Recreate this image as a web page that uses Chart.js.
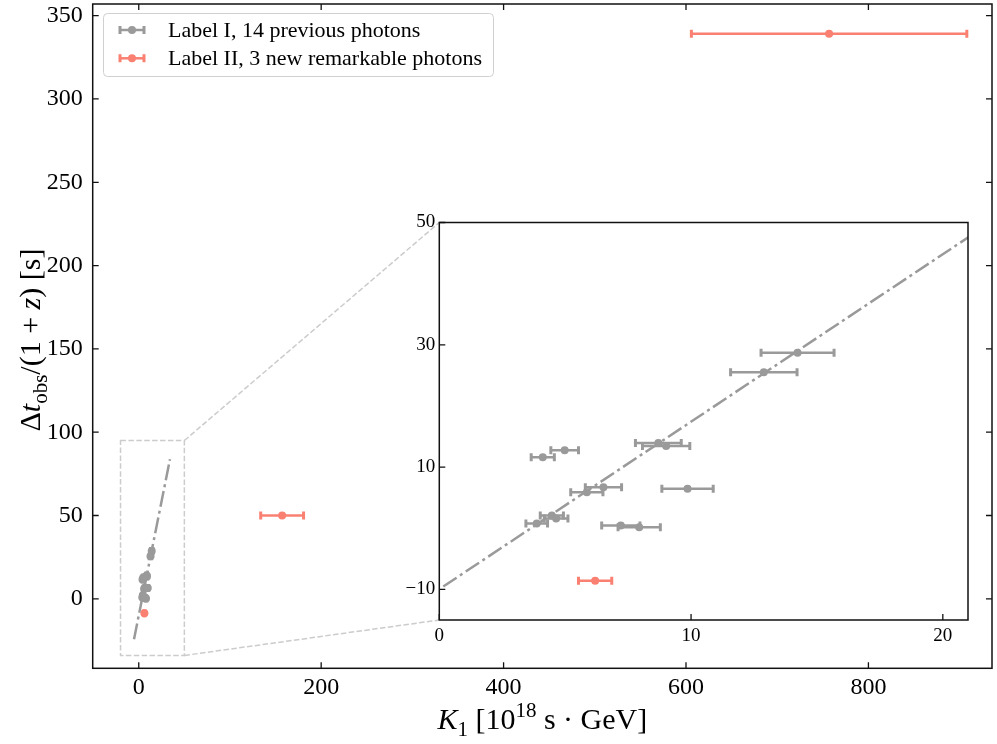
<!DOCTYPE html>
<html>
<head>
<meta charset="utf-8">
<script src="https://cdn.jsdelivr.net/npm/chart.js@4.4.0/dist/chart.umd.min.js"></script>
<style>
  html, body { margin: 0; padding: 0; background: #fff; }
  #wrap { position: relative; width: 997px; height: 744px; }
  #main { position: absolute; left: 0; top: 0; }
  #inset { position: absolute; left: 380px; top: 200px; }
</style>
</head>
<body>
<div id="wrap">
  <canvas id="main" width="997" height="744"></canvas>
  <canvas id="inset" width="610" height="460"></canvas>
</div>
<script>
// Label I, 14 previous photons
var grayK   = [14.23, 12.89, 8.70, 9.01, 4.98, 4.11, 6.52, 5.86, 9.86, 3.87, 4.47, 4.64, 7.21, 7.94];
var grayT   = [28.7, 25.5, 13.95, 13.45, 12.75, 11.6, 6.7, 5.9, 6.45, 0.8, 2.1, 1.6, 0.45, 0.17];
var grayErr = [1.45, 1.32, 0.91, 0.94, 0.55, 0.46, 0.72, 0.64, 1.02, 0.43, 0.46, 0.47, 0.76, 0.84];

// Label II, 3 new remarkable photons
var redK   = [6.19, 157.2, 756.9];
var redT   = [-8.6, 50.0, 339.2];
var redErr = [0.66, 23.5, 151];

// dash-dot fit line
var fitK = [-5.2, 34.2];
var fitT = [-24.2, 83.7];

var mainXTicks  = [0, 200, 400, 600, 800];
var mainYTicks  = [0, 50, 100, 150, 200, 250, 300, 350];
var insetXTicks = [0, 10, 20];
var insetYTicks = [-10, 10, 30, 50];

// region marked on the main plot
var boxK = [-20, 50];
var boxT = [-34, 95];

var FONT = "'Liberation Serif', 'DejaVu Serif', serif";
var GRAY = '#9a9a9a';
var RED = '#fa8072';

function pts(xs, ys) {
  return xs.map(function (x, i) { return { x: x, y: ys[i] }; });
}
function fixTicks(list) {
  return function (s) { s.ticks = list.map(function (v) { return { value: v }; }); };
}
function fmt(v) { return v < 0 ? '\u2212' + Math.abs(v) : '' + v; }

function makeDatasets() {
  return [
    {
      label: 'Label II, 3 new remarkable photons',
      data: pts(redK, redT), xErr: redErr,
      backgroundColor: RED, borderColor: RED,
      pointRadius: 4, pointBorderWidth: 0, order: 0
    },
    {
      label: 'Label I, 14 previous photons',
      data: pts(grayK, grayT), xErr: grayErr,
      backgroundColor: GRAY, borderColor: GRAY,
      pointRadius: 4, pointBorderWidth: 0, order: 1
    },
    {
      type: 'line', label: 'fit',
      data: pts(fitK, fitT),
      borderColor: GRAY, borderWidth: 2.5, borderDash: [16, 4, 3, 4],
      pointRadius: 0, fill: false, order: 3
    }
  ];
}

var errorBars = {
  id: 'errorBars',
  beforeDatasetDraw: function (chart, args) {
    var ds = chart.data.datasets[args.index];
    if (!ds.xErr) return;
    var ctx = chart.ctx, xs = chart.scales.x, ys = chart.scales.y, a = chart.chartArea;
    ctx.save();
    ctx.beginPath();
    ctx.rect(a.left, a.top, a.right - a.left, a.bottom - a.top);
    ctx.clip();
    ctx.strokeStyle = ds.borderColor;
    ds.data.forEach(function (p, i) {
      var x0 = xs.getPixelForValue(p.x - ds.xErr[i]);
      var x1 = xs.getPixelForValue(p.x + ds.xErr[i]);
      var y = ys.getPixelForValue(p.y);
      ctx.lineWidth = 2.5;
      ctx.beginPath();
      ctx.moveTo(x0, y); ctx.lineTo(x1, y);
      ctx.stroke();
      ctx.lineWidth = 3;
      ctx.beginPath();
      ctx.moveTo(x0, y - 4); ctx.lineTo(x0, y + 4);
      ctx.moveTo(x1, y - 4); ctx.lineTo(x1, y + 4);
      ctx.stroke();
    });
    ctx.restore();
  }
};

function frame(allSides) {
  return {
    id: 'frame',
    beforeDraw: function (chart) {
      var a = chart.chartArea, ctx = chart.ctx;
      ctx.save();
      ctx.fillStyle = '#fff';
      ctx.fillRect(a.left, a.top, a.right - a.left, a.bottom - a.top);
      ctx.restore();
    },
    afterDraw: function (chart) {
      var a = chart.chartArea, ctx = chart.ctx, xs = chart.scales.x, ys = chart.scales.y;
      ctx.save();
      ctx.strokeStyle = '#111';
      ctx.lineWidth = 1.3;
      ctx.beginPath();
      xs.ticks.forEach(function (t) {
        var x = xs.getPixelForValue(t.value);
        ctx.moveTo(x, a.bottom); ctx.lineTo(x, a.bottom - 6);
        if (allSides) { ctx.moveTo(x, a.top); ctx.lineTo(x, a.top + 6); }
      });
      ys.ticks.forEach(function (t) {
        var y = ys.getPixelForValue(t.value);
        ctx.moveTo(a.left, y); ctx.lineTo(a.left + 6, y);
        if (allSides) { ctx.moveTo(a.right, y); ctx.lineTo(a.right - 6, y); }
      });
      ctx.stroke();
      ctx.lineWidth = 1.5;
      ctx.strokeRect(a.left, a.top, a.right - a.left, a.bottom - a.top);
      ctx.restore();
    }
  };
}

function axisOpts(min, max, list, size, pad, fit, isX) {
  return {
    type: 'linear', min: min, max: max,
    afterBuildTicks: fixTicks(list),
    afterFit: function (s) {
      if (isX) s.height = fit; else s.width = fit;
      s.paddingTop = s.paddingBottom = s.paddingLeft = s.paddingRight = 0;
    },
    grid: { display: false, drawTicks: false },
    border: { display: false },
    ticks: {
      color: '#000', padding: pad, autoSkip: false, maxRotation: 0,
      font: { family: FONT, size: size },
      callback: fmt
    }
  };
}

var insetChart = new Chart(document.getElementById('inset'), {
  type: 'scatter',
  data: { datasets: makeDatasets() },
  options: {
    responsive: false, animation: false, devicePixelRatio: 1, events: [],
    layout: { padding: { top: 22.5, right: 22, left: 0, bottom: 0 } },
    scales: {
      x: axisOpts(0, 21, insetXTicks, 19, 5, 40, true),
      y: axisOpts(-15, 50, insetYTicks, 19, 4, 59.3, false)
    },
    plugins: { legend: { display: false }, tooltip: { enabled: false } }
  },
  plugins: [frame(false), errorBars]
});

function richFont(p, size) {
  return (p.it ? 'italic ' : '') + ((p.sub || p.sup) ? Math.round(size * 0.7) : size) + 'px ' + FONT;
}
function drawRich(ctx, parts, size) {
  var w = 0;
  parts.forEach(function (p) { ctx.font = richFont(p, size); p.w = ctx.measureText(p.t).width; w += p.w; });
  var x = -w / 2;
  parts.forEach(function (p) {
    ctx.font = richFont(p, size);
    var dy = p.sub ? size * 0.22 : (p.sup ? -size * 0.4 : 0);
    ctx.fillText(p.t, x, dy);
    x += p.w;
  });
}

var extras = {
  id: 'extras',
  beforeDatasetsDraw: function (chart) {
    var ctx = chart.ctx, xs = chart.scales.x, ys = chart.scales.y;
    var l = xs.getPixelForValue(boxK[0]), r = xs.getPixelForValue(boxK[1]);
    var t = ys.getPixelForValue(boxT[1]), b = ys.getPixelForValue(boxT[0]);
    var ia = insetChart.chartArea, ox = 380, oy = 200;
    ctx.save();
    ctx.strokeStyle = '#cccccc';
    ctx.lineWidth = 1.5;
    ctx.setLineDash([5.5, 2.4]);
    ctx.strokeRect(l, t, r - l, b - t);
    ctx.beginPath();
    ctx.moveTo(r, t); ctx.lineTo(ia.left + ox, ia.top + oy);
    ctx.moveTo(r, b); ctx.lineTo(ia.left + ox, ia.bottom + oy);
    ctx.stroke();
    ctx.restore();
  },
  afterDraw: function (chart) {
    var ctx = chart.ctx, a = chart.chartArea;
    ctx.save();
    ctx.fillStyle = '#000';
    ctx.textAlign = 'left';
    ctx.textBaseline = 'alphabetic';
    // x title
    ctx.save();
    ctx.translate((a.left + a.right) / 2, 729);
    drawRich(ctx, [
      { t: 'K', it: true }, { t: '1', sub: true }, { t: ' [10' }, { t: '18', sup: true }, { t: ' s \u00b7 GeV]' }
    ], 30);
    ctx.restore();
    // y title
    ctx.save();
    ctx.translate(40, 340);
    ctx.rotate(-Math.PI / 2);
    drawRich(ctx, [
      { t: '\u0394' }, { t: 't', it: true }, { t: 'obs', sub: true }, { t: '/(1 + ' }, { t: 'z', it: true }, { t: ') [s]' }
    ], 30);
    ctx.restore();

    // legend
    var lx = 103, ly = 13, lw = 390, lh = 63;
    ctx.fillStyle = 'rgba(255,255,255,0.8)';
    ctx.strokeStyle = '#d0d0d0';
    ctx.lineWidth = 1;
    ctx.beginPath();
    ctx.roundRect(lx + 0.5, ly + 0.5, lw, lh, 4);
    ctx.fill();
    ctx.stroke();
    var items = [chart.data.datasets[1], chart.data.datasets[0]];
    items.forEach(function (ds, i) {
      var y = 30 + i * 28.3;
      ctx.strokeStyle = ds.borderColor;
      ctx.fillStyle = ds.borderColor;
      ctx.lineWidth = 2.5;
      ctx.beginPath();
      ctx.moveTo(120, y); ctx.lineTo(144, y);
      ctx.stroke();
      ctx.lineWidth = 3;
      ctx.beginPath();
      ctx.moveTo(120, y - 4); ctx.lineTo(120, y + 4);
      ctx.moveTo(144, y - 4); ctx.lineTo(144, y + 4);
      ctx.stroke();
      ctx.beginPath();
      ctx.arc(132, y, 4, 0, Math.PI * 2);
      ctx.fill();
      ctx.fillStyle = '#000';
      ctx.font = '22px ' + FONT;
      ctx.textBaseline = 'middle';
      ctx.fillText(ds.label, 168, y + 1);
    });
    ctx.restore();
  }
};

var mainChart = new Chart(document.getElementById('main'), {
  type: 'scatter',
  data: { datasets: makeDatasets() },
  options: {
    responsive: false, animation: false, devicePixelRatio: 1, events: [],
    layout: { padding: { top: 3, right: 5, left: 0, bottom: 0 } },
    scales: {
      x: axisOpts(-50.5, 935.5, mainXTicks, 24, 5, 75.7, true),
      y: axisOpts(-41.7, 357, mainYTicks, 24, 10, 92.7, false)
    },
    plugins: { legend: { display: false }, tooltip: { enabled: false } }
  },
  plugins: [frame(true), errorBars, extras]
});
</script>
</body>
</html>
